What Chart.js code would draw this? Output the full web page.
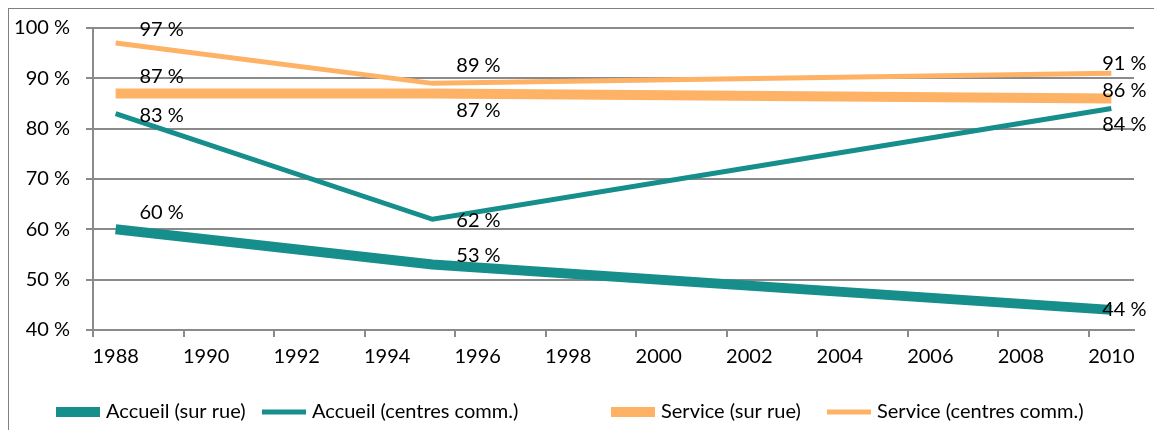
<!DOCTYPE html>
<html>
<head>
<meta charset="utf-8">
<script src="https://cdn.jsdelivr.net/npm/chart.js@4.4.0/dist/chart.umd.min.js"></script>
<style>
  html, body { margin: 0; padding: 0; background: #fff; overflow: hidden; }
  #wrap { position: relative; width: 1154px; height: 430px; }
  #frame { position: absolute; left: 8px; top: 8px; width: 1200px; height: 500px; border: 1px solid #808080; box-sizing: border-box; pointer-events: none; }
  canvas { position: absolute; left: 0; top: 0; }
</style>
</head>
<body>
<div id="wrap">
  <canvas id="myChart" width="1154" height="430"></canvas>
  <div id="frame"></div>
</div>
<script>
// every year on the axis, only even ones get a label
let yearLabels = ['1988', '1989', '1990', '1991', '1992', '1993', '1994', '1995', '1996', '1997', '1998', '1999',
    '2000', '2001', '2002', '2003', '2004', '2005', '2006', '2007', '2008', '2009', '2010']

// survey years
let surveyYears = ['1988', '1995', '2010']

let accueilRue = [60, 53, 44]
let accueilCentres = [83, 62, 84]
let serviceRue = [87, 87, 86]
let serviceCentres = [97, 89, 91]

// where each value label sits relative to its point (px)
let labelOffsets = [
    [[46, -17], [46, -9], [13, 0]],
    [[46, 2], [46, 1], [13, 16]],
    [[46, -17], [46, 17], [13, -8]],
    [[46, -14], [46, -18], [13, -10]],
]

// legend row: left edge of each entry's swatch
let legendX = [56, 262, 611, 827]
let legendY = 412

let teal = '#168e8b'
let orange = '#fdb266'
let gridColor = '#8a8a8a'
let fontFamily = 'Lato, "Open Sans", sans-serif'

function points(values) {
    return surveyYears.map((y, i) => ({ x: y, y: values[i] }))
}

function lineDataset(label, values, color, width) {
    return {
        label: label,
        data: points(values),
        borderColor: color,
        backgroundColor: color,
        borderWidth: width,
        borderCapStyle: 'butt',
        borderJoinStyle: 'miter',
        pointRadius: 0,
        pointHoverRadius: 0,
        tension: 0,
        fill: false,
    }
}

let valueLabels = {
    id: 'valueLabels',
    afterDatasetsDraw(chart) {
        let ctx = chart.ctx
        ctx.save()
        ctx.font = '20px ' + fontFamily
        ctx.fillStyle = '#000'
        ctx.textAlign = 'center'
        ctx.textBaseline = 'middle'
        chart.data.datasets.forEach((ds, i) => {
            chart.getDatasetMeta(i).data.forEach((pt, j) => {
                let off = labelOffsets[i][j]
                ctx.fillText(ds.data[j].y + ' %', pt.x + off[0], pt.y + off[1])
            })
        })
        ctx.restore()
    }
}

// legend entries are spaced unevenly, so draw them by hand
let legendRow = {
    id: 'legendRow',
    afterDraw(chart) {
        let ctx = chart.ctx
        ctx.save()
        ctx.font = '20px ' + fontFamily
        ctx.textAlign = 'left'
        ctx.textBaseline = 'middle'
        chart.data.datasets.forEach((ds, i) => {
            let x = legendX[i]
            ctx.strokeStyle = ds.borderColor
            ctx.lineWidth = ds.borderWidth
            ctx.lineCap = 'butt'
            ctx.beginPath()
            ctx.moveTo(x, legendY)
            ctx.lineTo(x + 44, legendY)
            ctx.stroke()
            ctx.fillStyle = '#000'
            ctx.fillText(ds.label, x + 50, legendY)
        })
        ctx.restore()
    }
}

function draw() {
    let ctx = document.getElementById('myChart').getContext('2d')
    new Chart(ctx, {
        type: 'line',
        data: {
            labels: yearLabels,
            datasets: [
                lineDataset('Accueil (sur rue)', accueilRue, teal, 10),
                lineDataset('Accueil (centres comm.)', accueilCentres, teal, 5),
                lineDataset('Service (sur rue)', serviceRue, orange, 10),
                lineDataset('Service (centres comm.)', serviceCentres, orange, 5),
            ],
        },
        options: {
            responsive: false,
            animation: false,
            devicePixelRatio: 1,
            layout: { padding: { top: 28, left: 0, right: 20, bottom: 50 } },
            plugins: {
                tooltip: { enabled: false },
                legend: { display: false },
            },
            scales: {
                x: {
                    type: 'category',
                    offset: true,
                    ticks: {
                        autoSkip: false,
                        maxRotation: 0,
                        padding: 8,
                        color: '#000',
                        font: { family: fontFamily, size: 20 },
                        callback: function (value, index) {
                            return index % 2 === 0 ? this.getLabelForValue(value) : ''
                        },
                    },
                    grid: {
                        offset: true,
                        drawOnChartArea: false,
                        tickLength: 7,
                        lineWidth: 2,
                        color: (c) => c.index % 2 === 0 ? gridColor : 'rgba(0,0,0,0)',
                    },
                    border: { color: gridColor, width: 2 },
                    afterFit: (scale) => { scale.height = 50 },
                },
                y: {
                    min: 40,
                    max: 100,
                    ticks: {
                        stepSize: 10,
                        padding: 16,
                        color: '#000',
                        font: { family: fontFamily, size: 20 },
                        callback: (value) => value + ' %',
                    },
                    grid: { color: gridColor, lineWidth: 2, tickLength: 7 },
                    border: { color: gridColor, width: 2 },
                    afterFit: (scale) => { scale.width = 93 },
                },
            },
        },
        plugins: [valueLabels, legendRow],
    })
}

document.fonts.load('20px Lato').then(draw, draw)
</script>
</body>
</html>
